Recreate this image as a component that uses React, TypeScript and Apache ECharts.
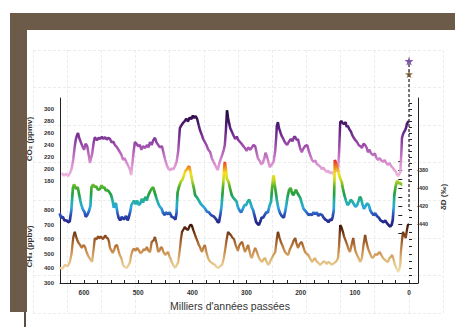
import React, { useEffect, useRef } from "react";
import * as echarts from "echarts";

// ---- Data: [age (thousands of years before present), value] ----
const co2 = [
  [641,193],[637,189],[633,192],[629,188],[626,193],[623,200],[620,215],[617,238],[615,250],[613,256],[611,260],[609,252],[606,245],[603,238],[600,232],[597,242],[594,238],[591,222],[589,210],[587,218],[585,225],[582,245],[580,253],[576,248],[573,252],[570,250],[567,254],[564,250],[561,253],[558,249],[555,252],[552,250],[549,244],[546,246],[543,240],[539,236],[535,230],[531,224],[528,215],[525,218],[521,210],[517,203],[515,198],[513,190],[510,215],[508,232],[506,245],[503,242],[500,238],[497,240],[494,232],[491,238],[487,235],[484,240],[481,236],[478,245],[475,240],[472,248],[469,252],[466,244],[463,240],[460,236],[456,238],[453,226],[450,215],[447,206],[444,200],[441,198],[438,201],[435,199],[432,205],[429,212],[426,230],[423,268],[420,273],[417,277],[414,280],[411,284],[408,279],[405,286],[402,283],[399,289],[397,285],[394,288],[391,283],[388,272],[386,265],[383,258],[380,250],[377,245],[374,240],[371,233],[367,228],[364,218],[361,212],[358,207],[355,201],[353,198],[350,210],[347,218],[345,223],[342,232],[340,240],[338,265],[336,298],[334,285],[332,276],[330,268],[327,262],[324,256],[321,250],[318,254],[315,248],[312,245],[309,242],[306,238],[303,235],[300,230],[297,236],[293,232],[290,236],[287,240],[284,238],[281,226],[279,218],[276,214],[273,208],[270,210],[267,218],[265,227],[262,220],[259,210],[257,203],[253,208],[250,212],[247,230],[245,255],[244,272],[242,278],[240,268],[237,260],[235,255],[233,252],[230,246],[228,243],[225,240],[222,245],[218,250],[215,246],[212,254],[210,253],[207,248],[205,250],[202,238],[200,232],[198,228],[195,234],[192,238],[188,240],[185,230],[182,222],[179,215],[176,212],[173,214],[170,208],[168,207],[164,204],[161,200],[158,202],[155,198],[152,195],[149,197],[146,193],[143,195],[140,192],[137,195],[134,198],[131,197],[129,230],[127,278],[125,280],[122,276],[120,275],[117,278],[115,270],[113,272],[110,266],[107,262],[105,257],[102,252],[99,248],[96,245],[93,240],[90,238],[87,235],[84,242],[81,240],[78,235],[76,228],[73,232],[70,226],[66,223],[63,226],[60,218],[57,215],[54,218],[51,214],[48,212],[45,215],[42,210],[39,207],[36,210],[33,205],[30,202],[27,198],[24,195],[22,190],[20,188],[18,192],[16,195],[14,230],[13,252],[11,258],[9,262],[7,265],[5,270],[4,275],[2,278],[0,280],
];

const deltaD = [
  [645,-428],[642,-433],[639,-432],[636,-436],[632,-436],[629,-438],[626,-437],[623,-425],[620,-400],[618,-396],[617,-397],[614,-401],[611,-399],[608,-408],[606,-414],[604,-419],[601,-424],[598,-427],[596,-432],[593,-430],[590,-426],[587,-420],[585,-399],[582,-396],[579,-399],[576,-398],[573,-402],[569,-401],[566,-397],[563,-400],[561,-399],[558,-403],[556,-402],[552,-404],[548,-408],[545,-415],[543,-422],[541,-418],[539,-417],[536,-428],[534,-433],[531,-436],[528,-432],[524,-435],[520,-431],[517,-436],[515,-433],[512,-426],[510,-419],[507,-416],[505,-414],[502,-418],[499,-414],[496,-419],[493,-417],[490,-412],[488,-416],[486,-413],[483,-410],[481,-414],[478,-408],[475,-404],[472,-401],[469,-399],[466,-405],[463,-411],[460,-416],[458,-419],[456,-421],[453,-423],[450,-428],[447,-430],[445,-427],[441,-429],[438,-427],[434,-432],[430,-433],[427,-435],[425,-428],[423,-405],[420,-398],[417,-393],[414,-391],[411,-386],[408,-381],[405,-379],[403,-377],[401,-376],[399,-381],[397,-387],[395,-393],[392,-401],[390,-408],[386,-411],[382,-415],[379,-418],[377,-419],[374,-421],[371,-423],[368,-426],[364,-427],[360,-430],[357,-431],[354,-432],[350,-435],[347,-438],[345,-438],[342,-428],[340,-419],[337,-395],[335,-376],[334,-371],[332,-380],[330,-390],[327,-393],[324,-401],[321,-408],[318,-411],[315,-413],[312,-415],[310,-420],[308,-423],[305,-426],[303,-427],[300,-423],[297,-419],[294,-419],[291,-415],[288,-413],[285,-418],[283,-422],[281,-424],[278,-431],[275,-438],[272,-440],[270,-441],[267,-437],[265,-433],[262,-433],[259,-430],[256,-427],[253,-427],[250,-420],[247,-415],[245,-400],[243,-388],[242,-386],[240,-397],[238,-405],[236,-414],[233,-423],[230,-428],[227,-431],[223,-433],[220,-425],[218,-418],[216,-410],[213,-402],[210,-400],[208,-405],[205,-408],[202,-404],[200,-402],[198,-405],[195,-408],[192,-411],[189,-417],[186,-423],[183,-425],[179,-428],[176,-430],[173,-429],[170,-430],[167,-427],[164,-429],[161,-427],[158,-431],[155,-429],[151,-430],[148,-433],[145,-435],[142,-436],[139,-438],[136,-435],[133,-436],[131,-432],[129,-425],[128,-400],[127,-369],[125,-372],[122,-378],[119,-385],[117,-389],[114,-393],[112,-400],[109,-408],[106,-414],[103,-419],[100,-417],[97,-413],[94,-415],[91,-418],[88,-421],[85,-419],[82,-414],[80,-410],[78,-411],[75,-418],[72,-423],[69,-420],[66,-417],[63,-419],[60,-425],[57,-428],[54,-430],[51,-428],[48,-431],[44,-433],[41,-436],[38,-437],[35,-438],[32,-436],[29,-439],[26,-441],[23,-443],[20,-441],[18,-436],[16,-420],[15,-408],[13,-400],[11,-394],[9,-392],[7,-395],[4,-394],[2,-396],[0,-396],
];

const ch4 = [
  [645,403],[640,398],[635,423],[630,415],[626,444],[623,500],[620,608],[618,640],[617,650],[614,610],[611,581],[608,565],[604,540],[601,560],[598,547],[596,520],[593,492],[590,470],[587,455],[585,444],[582,540],[580,608],[577,598],[574,620],[572,605],[569,618],[565,600],[563,612],[561,625],[558,610],[556,605],[554,585],[552,540],[549,520],[547,505],[544,530],[542,555],[539,560],[537,530],[534,492],[531,470],[528,423],[525,410],[521,403],[518,420],[515,444],[513,490],[510,526],[507,535],[505,520],[502,540],[499,525],[496,505],[493,512],[490,530],[487,525],[484,547],[481,520],[478,512],[475,581],[472,590],[469,615],[466,570],[463,512],[460,525],[458,545],[456,540],[453,510],[450,492],[447,505],[445,512],[442,480],[440,465],[438,444],[435,420],[432,403],[429,420],[426,444],[423,530],[421,600],[419,650],[416,670],[414,684],[411,670],[408,663],[405,690],[403,700],[401,695],[398,660],[395,629],[392,600],[390,581],[388,560],[386,547],[384,525],[382,512],[380,540],[377,560],[374,510],[371,471],[368,450],[364,437],[361,430],[358,423],[356,412],[353,403],[350,410],[347,420],[345,423],[342,470],[340,512],[337,590],[334,650],[332,640],[329,629],[326,610],[323,600],[320,560],[318,540],[316,520],[313,560],[310,575],[308,581],[305,540],[303,512],[300,535],[297,560],[294,510],[292,480],[290,471],[287,510],[284,540],[281,515],[279,492],[276,465],[273,450],[271,444],[269,460],[266,471],[263,445],[260,423],[257,440],[255,460],[253,471],[250,495],[247,512],[244,600],[242,650],[239,610],[236,575],[234,560],[231,530],[229,512],[226,500],[223,492],[220,530],[218,545],[216,560],[213,590],[210,608],[208,575],[205,540],[202,565],[200,575],[198,581],[195,545],[192,512],[189,500],[186,492],[183,470],[179,444],[176,460],[174,471],[171,450],[168,440],[164,423],[161,435],[158,448],[155,444],[152,430],[149,445],[146,437],[143,425],[140,432],[137,440],[134,450],[131,471],[129,560],[127,697],[125,685],[122,650],[120,620],[117,590],[114,560],[112,535],[109,512],[106,560],[103,608],[101,560],[99,520],[96,492],[93,470],[90,444],[87,470],[84,560],[81,629],[79,590],[76,540],[73,510],[70,485],[68,471],[65,480],[62,498],[59,492],[56,505],[54,512],[51,490],[48,471],[45,460],[42,450],[39,444],[36,470],[33,480],[31,492],[28,455],[26,423],[23,400],[20,375],[18,390],[16,430],[15,512],[13,590],[11,650],[9,630],[6,608],[4,660],[2,700],[0,700],
];

// Modern values (stars) and the dashed reference line at age 0
const modernAge = 0;
const co2Modern = 380;
const ch4Modern = 1730;
const refLine = [1800, 800];

// Tick values
const xLabels = [0, 100, 200, 300, 400, 500, 600];
const xTicks = [0,25,50,75,100,125,150,175,200,225,250,275,300,325,350,375,400,425,450,475,500,525,550,575,600,625];
const co2Labels = [180, 200, 220, 240, 260, 280, 300];
const co2Ticks = [180,190,200,210,220,230,240,250,260,270,280,290,300,310];
const dDLabels = [-440, -420, -400, -380];
const dDTicks = [-450,-440,-430,-420,-410,-400,-390,-380,-370];
const ch4Labels = [300, 400, 500, 600, 700, 800];
const ch4Ticks = [300,350,400,450,500,550,600,650,700,750,800];

const STAR = "path://M50,0 L61,35 L98,35 L68,57 L79,91 L50,70 L21,91 L32,57 L2,35 L39,35 Z";

const FONT = "'Liberation Sans', Arial, sans-serif";
const AX = "#333";

export default function App() {
  const ref = useRef<HTMLDivElement>(null);
  useEffect(() => {
    if (!ref.current) return;
    const chart = echarts.init(ref.current, undefined, { renderer: "svg" });
    const gx = { left: 60, width: 358 };
    const xMin = -16.6, xMax = 644.3;
    const hiddenX = (gi: number) => ({
      type: "value", gridIndex: gi, min: xMin, max: xMax, inverse: true, show: false,
    });
    const lbl = { fontSize: 6, fontWeight: "bold", color: AX, fontFamily: FONT };
    const bgSplit = { show: true, lineStyle: { color: "#ececec", type: [3, 2], width: 1 } };
    chart.setOption({
      animation: false,
      backgroundColor: "#ffffff",
      graphic: [
        { type: "rect", shape: { x: 10, y: 13, width: 445, height: 17 }, style: { fill: "#6c5b49" }, silent: true },
        { type: "rect", shape: { x: 10, y: 13, width: 17, height: 299 }, style: { fill: "#6c5b49" }, silent: true },
        { type: "rect", shape: { x: 24, y: 312, width: 2, height: 15 }, style: { fill: "#5e4e3e" }, silent: true },
      ],
      grid: [
        { left: 33, top: 50, width: 410, height: 263 },
        { left: gx.left, width: gx.width, top: 98, height: 185 },
        { left: gx.left, width: gx.width, top: 97, height: 84 },
        { left: gx.left, width: gx.width, top: 152, height: 90 },
        { left: gx.left, width: gx.width, top: 210, height: 73 },
      ],
      xAxis: [
        {
          type: "value", gridIndex: 0, min: 0, max: 12, interval: 1,
          axisLine: { show: false }, axisTick: { show: false }, axisLabel: { show: false },
          splitLine: bgSplit,
        },
        {
          type: "value", gridIndex: 1, min: xMin, max: xMax, inverse: true,
          axisLine: { show: true, lineStyle: { color: "#222", width: 1 } },
          axisTick: { show: true, inside: true, length: 3, customValues: xTicks, lineStyle: { color: "#222" } },
          axisLabel: { show: true, customValues: xLabels, margin: 6, ...lbl, fontSize: 6.5 },
          splitLine: { show: false },
          name: "Milliers d'années passées",
          nameLocation: "middle",
          nameGap: 16,
          nameTextStyle: { fontSize: 10.5, color: "#333", fontFamily: FONT, padding: [0, 18, 0, 0] },
        },
        hiddenX(2), hiddenX(3), hiddenX(4),
      ],
      yAxis: [
        {
          type: "value", gridIndex: 0, min: 0, max: 7, interval: 1,
          axisLine: { show: false }, axisTick: { show: false }, axisLabel: { show: false },
          splitLine: bgSplit,
        },
        {
          type: "value", gridIndex: 1, min: 0, max: 1, position: "left",
          axisLine: { show: true, onZero: false, lineStyle: { color: "#222" } },
          axisTick: { show: false }, axisLabel: { show: false }, splitLine: { show: false },
        },
        {
          type: "value", gridIndex: 1, min: 0, max: 1, position: "right",
          axisLine: { show: true, onZero: false, lineStyle: { color: "#222" } },
          axisTick: { show: false }, axisLabel: { show: false }, splitLine: { show: false },
        },
        {
          type: "value", gridIndex: 2, min: 180, max: 320, position: "left",
          axisLine: { show: false },
          axisTick: { show: true, inside: true, length: 3, customValues: co2Ticks, lineStyle: { color: "#222" } },
          axisLabel: { show: true, customValues: co2Labels, margin: 6, ...lbl },
          splitLine: { show: false },
          name: "CO₂ (ppmv)", nameLocation: "middle", nameGap: 20,
          nameTextStyle: { fontSize: 8, fontWeight: "bold", color: AX, fontFamily: FONT },
        },
        {
          type: "value", gridIndex: 3, min: -460, max: -360, position: "right",
          axisLine: { show: false },
          axisTick: { show: true, inside: true, length: 4, customValues: dDTicks, lineStyle: { color: "#222" } },
          axisLabel: { show: true, customValues: dDLabels, margin: 6, ...lbl, fontSize: 5.5 },
          splitLine: { show: false },
          name: "δD (‰)", nameLocation: "middle", nameGap: 22,
          nameTextStyle: { fontSize: 8, fontWeight: "bold", color: AX, fontFamily: FONT },
        },
        {
          type: "value", gridIndex: 4, min: 300, max: 800, position: "left",
          axisLine: { show: false },
          axisTick: { show: true, inside: true, length: 3, customValues: ch4Ticks, lineStyle: { color: "#222" } },
          axisLabel: { show: true, customValues: ch4Labels, margin: 6, ...lbl },
          splitLine: { show: false },
          name: "CH₄ (ppbv)", nameLocation: "middle", nameGap: 20,
          nameTextStyle: { fontSize: 8, fontWeight: "bold", color: AX, fontFamily: FONT },
        },
      ],
      visualMap: [
        {
          type: "continuous", show: false, seriesIndex: 0, dimension: 1, min: 185, max: 295,
          inRange: { color: ["#f2bde2", "#d488cc", "#9c4aaa", "#5a2080", "#24083a"] },
        },
        {
          type: "continuous", show: false, seriesIndex: 1, dimension: 1, min: -445, max: -368,
          inRange: { color: ["#1c1a70", "#262a8e", "#2a50b8", "#2aa8e0", "#22b0a0", "#22a040", "#50b030", "#c8d820", "#f5e020", "#ee7a20", "#e02020"] },
        },
        {
          type: "continuous", show: false, seriesIndex: 2, dimension: 1, min: 375, max: 700,
          inRange: { color: ["#f2e2b4", "#e0b878", "#c08040", "#8a4a1e", "#3a1406"] },
        },
      ],
      series: [
        {
          type: "line", xAxisIndex: 2, yAxisIndex: 3, data: co2,
          showSymbol: false, clip: false, lineStyle: { width: 2.5 }, z: 3,
        },
        {
          type: "line", xAxisIndex: 3, yAxisIndex: 4, data: deltaD,
          showSymbol: false, clip: false, lineStyle: { width: 2.7 }, z: 3,
        },
        {
          type: "line", xAxisIndex: 4, yAxisIndex: 5, data: ch4,
          showSymbol: false, clip: false, lineStyle: { width: 2.3 }, z: 3,
        },
        {
          type: "line", xAxisIndex: 4, yAxisIndex: 5, data: refLine.map((v) => [modernAge, v]),
          showSymbol: false, clip: false, lineStyle: { width: 1.3, type: [3, 2], color: "#3a2a40" }, z: 4,
        },
        {
          type: "scatter", xAxisIndex: 2, yAxisIndex: 3, data: [[modernAge, co2Modern]],
          symbol: STAR, symbolSize: 9, clip: false, itemStyle: { color: "#5b2d8e" }, z: 5,
        },
        {
          type: "scatter", xAxisIndex: 4, yAxisIndex: 5, data: [[modernAge, ch4Modern]],
          symbol: STAR, symbolSize: 8, clip: false, itemStyle: { color: "#6b4a1e" }, z: 5,
        },
      ],
    });
    return () => chart.dispose();
  }, []);
  return (
    <div
      ref={ref}
      style={{ position: "fixed", left: 0, top: 0, width: 455, height: 327, background: "#fff" }}
    />
  );
}
